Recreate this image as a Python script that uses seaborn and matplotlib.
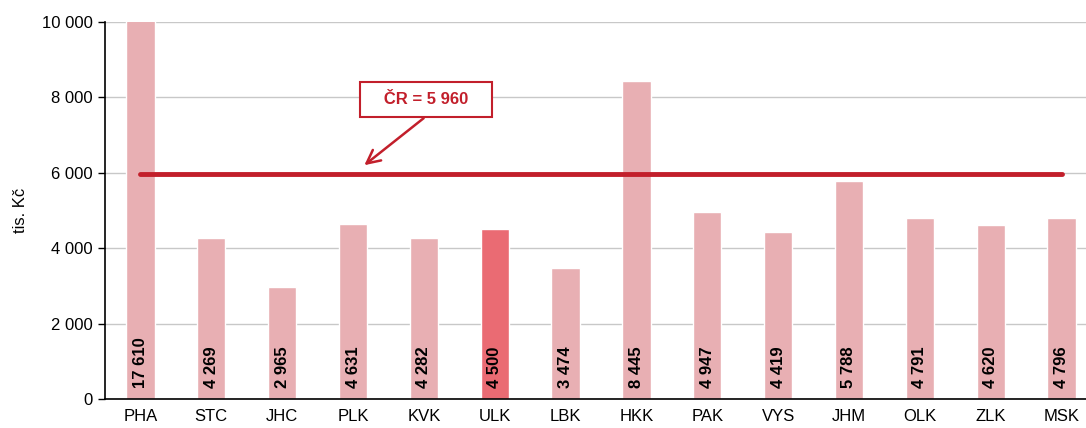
import numpy as np
import matplotlib
matplotlib.use('Agg')
import matplotlib.pyplot as plt
import seaborn as sns

# data
regions = ['PHA', 'STC', 'JHC', 'PLK', 'KVK', 'ULK', 'LBK', 'HKK', 'PAK', 'VYS', 'JHM', 'OLK', 'ZLK', 'MSK']
values = [17610, 4269, 2965, 4631, 4282, 4500, 3474, 8445, 4947, 4419, 5788, 4791, 4620, 4796]
highlight = 'ULK'
cr_value = 5960
y_ticks = [0, 2000, 4000, 6000, 8000, 10000]

light = '#E8AFB3'
dark = '#EA6B73'
red = '#C21F2B'

sns.set_style('white')
plt.rcParams['font.family'] = ['Liberation Sans', 'DejaVu Sans']
plt.rcParams['text.color'] = 'black'
plt.rcParams['xtick.color'] = 'black'
plt.rcParams['ytick.color'] = 'black'
plt.rcParams['axes.labelcolor'] = 'black'

fig = plt.figure(figsize=(10.86, 4.28), dpi=100)
ax = fig.add_axes([0.0967, 0.0678, 0.9134, 0.881])

palette = [dark if r == highlight else light for r in regions]
sns.barplot(x=regions, y=values, hue=regions, palette=palette, width=0.4,
            legend=False, ax=ax, zorder=2, saturation=1)

ax.set_ylim(0, 10000)
ax.set_xlim(-0.5, len(regions) - 0.5)
ax.set_yticks(y_ticks)
ax.set_yticklabels([f'{v:,}'.replace(',', ' ') for v in y_ticks], fontsize=12)
ax.yaxis.grid(True, color='#C8C8C8', lw=1, zorder=0)
ax.set_axisbelow(True)
ax.set_ylabel('tis. Kč', fontsize=12, labelpad=10)
ax.set_xlabel('')

# ticks between categories
ax.set_xticks(range(len(regions)))
ax.set_xticklabels(regions, fontsize=12)
ax.set_xticks(np.arange(-0.5, len(regions), 1), minor=True)
ax.tick_params(axis='x', which='major', length=0, pad=7)
ax.tick_params(axis='x', which='minor', length=5, width=1, color='black', direction='out')
ax.tick_params(axis='y', length=5, width=1, color='black', direction='out', left=True, pad=4)

for s in ['top', 'right']:
    ax.spines[s].set_visible(False)
for s in ['left', 'bottom']:
    ax.spines[s].set_color('black')
    ax.spines[s].set_linewidth(1.2)

# value labels
for i, v in enumerate(values):
    ax.text(i, 290, f'{v:,}'.replace(',', ' '), rotation=90, ha='center', va='bottom',
            fontsize=12, fontweight='bold', color='black', zorder=4)

# CR average line
ax.plot([0, len(regions) - 1], [cr_value, cr_value], color=red, lw=3.5,
        solid_capstyle='round', zorder=3)

label = '   ' + f'ČR = {cr_value:,}'.replace(',', ' ') + '   '
ax.annotate(label, xy=(3.16, 6200), xytext=(4.03, 7930),
            ha='center', va='center', fontsize=12, fontweight='bold', color=red,
            bbox=dict(boxstyle='square,pad=0.6', fc='white', ec=red, lw=1.5),
            arrowprops=dict(arrowstyle='->,head_length=0.8,head_width=0.4', color=red, lw=1.8,
                            relpos=(0.6, 0), shrinkA=0, shrinkB=0),
            zorder=5)

fig.savefig('out.png', dpi=100)
